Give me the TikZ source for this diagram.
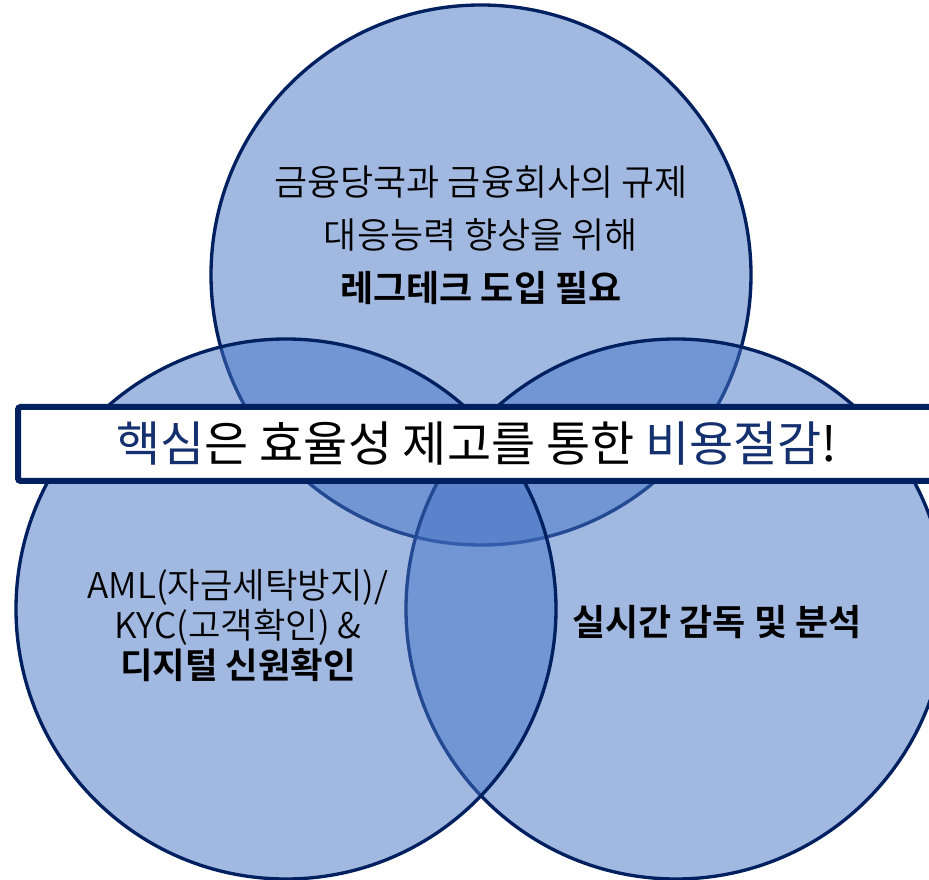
\documentclass[tikz,border=0pt]{standalone}
\usepackage{fontspec}
\IfFontExistsTF{Noto Sans CJK KR DemiLight}
  {\setmainfont{Noto Sans CJK KR DemiLight}[BoldFont={Noto Sans CJK KR Bold}]}
  {\setmainfont{Noto Sans CJK KR}}
\newfontfamily\bannerfont{Noto Sans CJK KR}
\definecolor{navy}{RGB}{0,32,96}
\definecolor{vennblue}{RGB}{68,114,196}
\definecolor{textblue}{RGB}{20,48,110}
\begin{document}
\begin{tikzpicture}[x=0.75pt, y=-0.75pt,
    venn/.style={circle, draw=navy, line width=2.5pt, fill=vennblue, fill opacity=0.5,
        minimum size=405pt, inner sep=0pt},
    venntext/.style={align=center, text=black, font=\fontsize{27}{39.75}\selectfont},
    banner/.style={draw=navy, line width=4.5pt, fill=white, rounded corners=2pt,
        minimum width=695.25pt, minimum height=55.5pt, inner sep=0pt}]
    \useasboundingbox (0,0) rectangle (929,880);
    \node[venn] (regtech) at (481,275) {};
    \node[venn] (monitor) at (676,609) {};
    \node[venn] (identity) at (286,609) {};
    \node[banner] (band) at (481.5,444) {};
    \node[font=\bannerfont\fontsize{36}{40}\selectfont] (core) at (477,444)
        {{\color{textblue}핵심}은 효율성 제고를 통한 {\color{textblue}비용절감}!};
    \node[venntext] (regtext) at (481,235)
        {금융당국과 금융회사의 규제\\대응능력 향상을 위해\\\textbf{레그테크 도입 필요}};
    \node[venntext, font=\fontsize{26.5}{30}\selectfont] (idtext) at (238,626)
        {AML(자금세탁방지)/\\KYC(고객확인) \&\\\textbf{디지털 신원확인}};
    \node[venntext, font=\bfseries\fontsize{27}{30}\selectfont] (montext) at (717,622)
        {실시간 감독 및 분석};
\end{tikzpicture}
\end{document}
